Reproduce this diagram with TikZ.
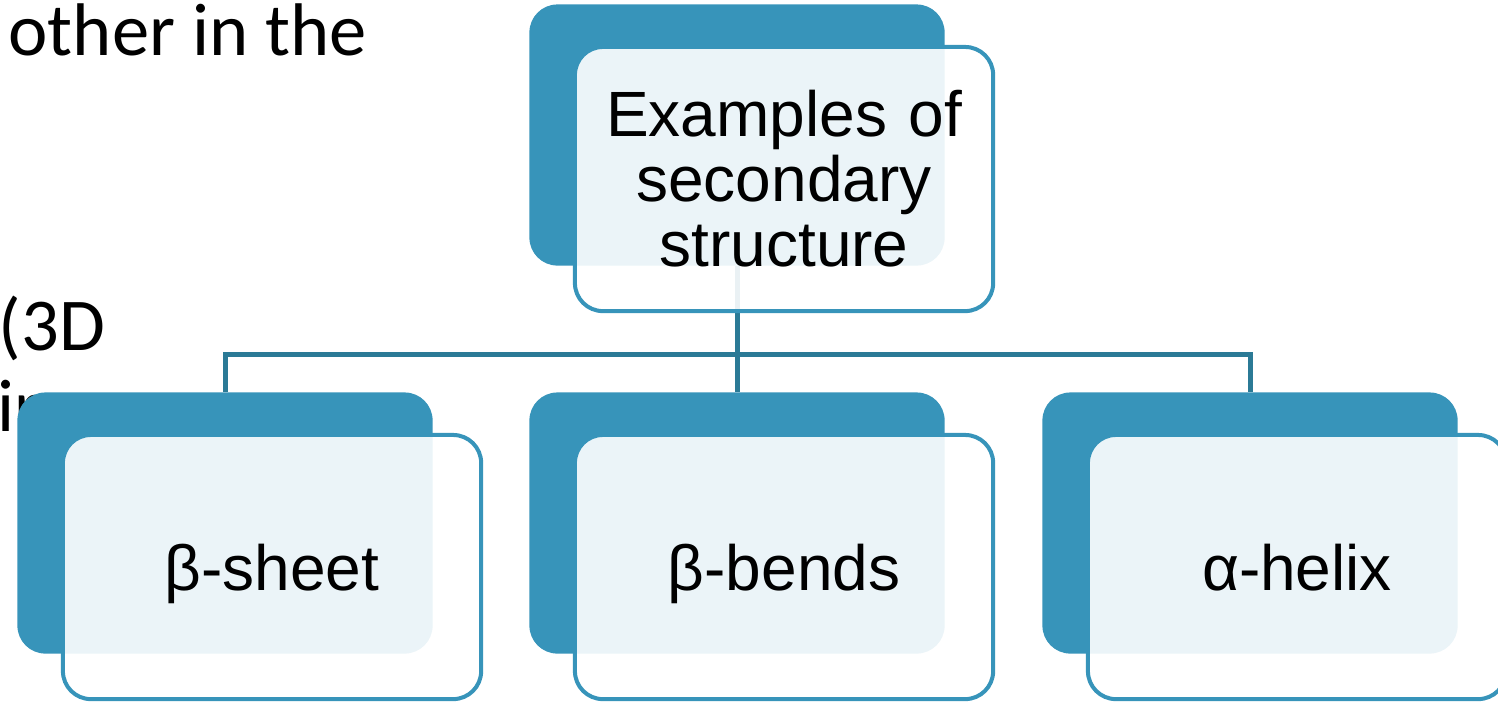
\documentclass[tikz,border=0pt]{standalone}
\usepackage{fontspec}
\setmainfont{Liberation Sans}
\newfontfamily\slidefamily{Carlito}
\usetikzlibrary{positioning}

\definecolor{boxblue}{HTML}{3794BA}
\definecolor{linkblue}{HTML}{2B7A96}

\newcommand{\boxfont}{\fontsize{18.2}{18.5}\selectfont}
\newcommand{\slidefont}{\slidefamily\fontsize{21.2}{23}\selectfont}

\begin{document}
\begin{tikzpicture}[x=0.01cm, y=-0.01cm]
    % Define styles
    \tikzstyle{back} = [rectangle, rounded corners=0.28cm, minimum width=4.15cm, minimum height=2.61cm, inner sep=0pt, fill=boxblue]
    \tikzstyle{front} = [rectangle, rounded corners=0.28cm, minimum width=4.18cm, minimum height=2.64cm, inner sep=0pt, draw=boxblue, line width=0.04cm, fill=white, fill opacity=0.9, text opacity=1, text width=4cm, align=center, font=\boxfont]
    \tikzstyle{leaf} = [front, text depth=0pt]
    \tikzstyle{link} = [draw=linkblue, line width=0.05cm]
    \tikzstyle{slide} = [anchor=base west, inner sep=0pt, font=\slidefont]

    \useasboundingbox (0,0) rectangle (1498,702);

    % Slide text behind the diagram
    \node (line1) [slide] at (8,55) {other in the};
    \node (line2) [slide] at (-2,350) {(3D};
    \node (line3) [slide] at (-3,431) {ir};

    % Back boxes
    \node (topback) [back] at (737,135) {};
    \node (sheetback) [back] at (225,523) {};
    \node (bendback) [back] at (737,523) {};
    \node (helixback) [back] at (1250,523) {};

    % Connectors
    \draw [link] (topback.south) -- ++(0,80) coordinate (hub);
    \draw [link] (sheetback.north) -- ++(0,-37) -| (helixback.north);
    \draw [link] (hub) -- (bendback.north);

    % Front boxes
    \node (topfront) [front, xshift=0.47cm, yshift=-0.44cm] at (topback) {Examples of\\secondary\\structure};
    \node (sheetfront) [leaf, xshift=0.47cm, yshift=-0.44cm] at (sheetback) {β-sheet};
    \node (bendfront) [leaf, xshift=0.47cm, yshift=-0.44cm] at (bendback) {β-bends};
    \node (helixfront) [leaf, xshift=0.47cm, yshift=-0.44cm] at (helixback) {α-helix};
\end{tikzpicture}
\end{document}
